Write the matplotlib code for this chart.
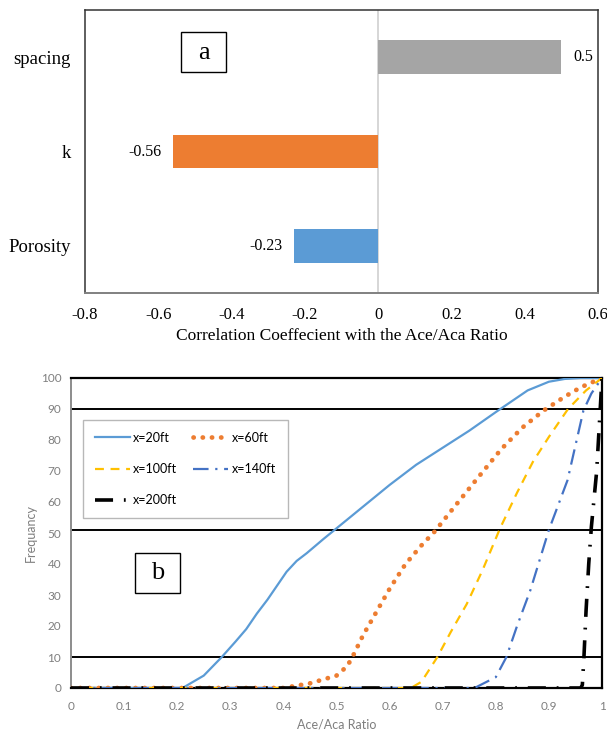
import matplotlib
matplotlib.use("Agg")
import matplotlib.pyplot as plt
from matplotlib.patches import Rectangle

# ---- data: panel a ----
factors = ["Porosity", "k", "spacing"]
corr = [-0.23, -0.56, 0.5]
bar_colors = ["#5B9BD5", "#ED7D31", "#A5A5A5"]

# ---- data: panel b ----
x20 = [0, 0.1, 0.2, 0.21, 0.25, 0.284, 0.31, 0.33, 0.35, 0.37, 0.39, 0.406, 0.425, 0.444, 0.475,
       0.5, 0.55, 0.6, 0.65, 0.7, 0.75, 0.8, 0.83, 0.86, 0.9, 0.93, 0.96, 1.0]
y20 = [0, 0, 0, 0, 4, 10, 15, 19, 24, 28.5, 33.5, 37.5, 41, 43.5, 48,
       51.5, 58.5, 65.5, 72, 77.5, 83, 89, 92.5, 96, 98.8, 99.7, 100, 100]

x60 = [0, 0.2, 0.4, 0.45, 0.5, 0.52, 0.53, 0.55, 0.57, 0.6, 0.63, 0.66, 0.685, 0.72, 0.76,
       0.81, 0.85, 0.89, 0.93, 0.96, 1.0]
y60 = [0, 0, 0, 1.5, 4, 7, 10, 17, 23, 32, 40, 46, 50.5, 58, 66.5,
       77, 84, 89.5, 94, 97, 100]

x100 = [0, 0.3, 0.64, 0.66, 0.69, 0.715, 0.745, 0.775, 0.808, 0.84, 0.87, 0.9, 0.936, 0.97, 1.0]
y100 = [0, 0, 0, 2, 10, 18, 27, 38, 51.5, 63, 73, 81, 90, 96, 100]

x140 = [0, 0.4, 0.76, 0.8, 0.82, 0.84, 0.865, 0.9, 0.935, 0.965, 0.98, 1.0]
y140 = [0, 0, 0, 3.5, 10, 20, 31.5, 51, 67, 89.5, 95, 100]

x200 = [0, 0.5, 0.96, 0.963, 0.966, 0.97, 0.975, 0.98, 0.99, 0.995, 1.0]
y200 = [0, 0, 0, 1, 10, 25, 40, 52, 70, 85, 100]

ref_lines = [10, 51, 90]

W, H = 607, 735
fig = plt.figure(figsize=(W / 100, H / 100), dpi=100)

# ================= panel a =================
serif = "Liberation Serif"
ax1 = fig.add_axes([85 / W, 1 - 293 / H, (598 - 85) / W, (293 - 10) / H])
ypos = list(range(len(factors)))
ax1.barh(ypos, corr, height=0.36, color=bar_colors, zorder=3)
ax1.axvline(0, color="#D0D0D0", lw=1.2, zorder=2)
ax1.set_xlim(-0.8, 0.6)
ax1.set_ylim(-0.5, 2.5)
ax1.set_yticks(ypos)
ax1.set_yticklabels(factors, fontfamily=serif, fontsize=13.5)
xt = [-0.8, -0.6, -0.4, -0.2, 0, 0.2, 0.4, 0.6]
ax1.set_xticks(xt)
ax1.set_xticklabels([("%g" % v) for v in xt], fontfamily=serif, fontsize=12)
ax1.tick_params(length=0, pad=10)
ax1.tick_params(axis="x", pad=10)
ax1.set_xlabel("Correlation Coeffecient with the Ace/Aca Ratio", fontfamily=serif, fontsize=12.5, labelpad=4)
for s in ["top", "left", "right"]:
    ax1.spines[s].set_color("#333333")
    ax1.spines[s].set_linewidth(1.1)
ax1.spines["bottom"].set_color("#808080")
ax1.spines["bottom"].set_linewidth(1.4)
for y, v in zip(ypos, corr):
    if v >= 0:
        ax1.annotate("%g" % v, (v, y), xytext=(9, 0), textcoords="offset points",
                     ha="left", va="center", fontfamily=serif, fontsize=11.5)
    else:
        ax1.annotate("%g" % v, (v, y), xytext=(-8, 0), textcoords="offset points",
                     ha="right", va="center", fontfamily=serif, fontsize=11.5)

# label box "a"
fig.add_artist(Rectangle((181 / W, 1 - 72 / H), 45 / W, 40 / H, transform=fig.transFigure,
                         fill=False, ec="black", lw=1.0))
fig.text(203.5 / W, 1 - 53 / H, "a", ha="center", va="center", fontfamily=serif, fontsize=19)

# ================= panel b =================
sans = "Lato"
grey = "#7F7F7F"
ax2 = fig.add_axes([71 / W, 1 - 688 / H, (602 - 71) / W, (688 - 378) / H])
h20, = ax2.plot(x20, y20, color="#5B9BD5", lw=1.6, label="x=20ft", zorder=3)
h60, = ax2.plot(x60, y60, color="#ED7D31", lw=3.4, linestyle=(0, (0.05, 1.9)),
                dash_capstyle="round", label="x=60ft", zorder=3)
h100, = ax2.plot(x100, y100, color="#FFC000", lw=1.6, linestyle=(0, (4, 3)), label="x=100ft", zorder=3)
h140, = ax2.plot(x140, y140, color="#4472C4", lw=1.6, linestyle=(0, (7, 3, 1, 3)), label="x=140ft", zorder=3)
h200, = ax2.plot(x200, y200, color="black", lw=2.6, linestyle=(0, (5, 3, 0.5, 3)), label="x=200ft", zorder=3)

for r in ref_lines:
    ax2.axhline(r, color="black", lw=1.4, zorder=2)

ax2.set_xlim(0, 1)
ax2.set_ylim(0, 100)
ax2.set_xticks([i / 10 for i in range(11)])
ax2.set_xticklabels(["0", "0.1", "0.2", "0.3", "0.4", "0.5", "0.6", "0.7", "0.8", "0.9", "1"])
ax2.set_yticks(range(0, 101, 10))
ax2.tick_params(length=0, labelsize=8.5, labelcolor=grey, pad=7)
ax2.tick_params(axis="x", pad=9)
for lab in ax2.get_xticklabels() + ax2.get_yticklabels():
    lab.set_fontfamily(sans)
ax2.set_xlabel("Ace/Aca Ratio", fontfamily=sans, fontsize=9, color=grey, labelpad=5)
ax2.set_ylabel("Frequancy", fontfamily=sans, fontsize=9, color=grey, labelpad=3)
ax2.spines["left"].set_color("#8C8C8C")
ax2.spines["left"].set_linewidth(1.4)
for side in ["top", "right", "bottom"]:
    ax2.spines[side].set_color("black")
    ax2.spines[side].set_linewidth(1.6)

# column-major fill -> rows: 20/60, 100/140, 200
handles = [h20, h100, h200, h60, h140]
leg = ax2.legend(handles=handles, labels=[h.get_label() for h in handles],
                 loc="upper left", bbox_to_anchor=(0.0226, 0.865), borderaxespad=0,
                 ncol=2, frameon=True, fancybox=False, edgecolor="#A6A6A6",
                 handlelength=2.8, handletextpad=0.25, columnspacing=1.3,
                 labelspacing=1.55, borderpad=0.95, prop={"family": sans, "size": 9})
leg.get_frame().set_linewidth(1.0)

# label box "b"
fig.add_artist(Rectangle((135 / W, 1 - 593 / H), 45 / W, 40 / H, transform=fig.transFigure,
                         fill=True, fc="white", ec="black", lw=1.0, zorder=5))
fig.text(157.5 / W, 1 - 573 / H, "b", ha="center", va="center", fontfamily=serif, fontsize=19, zorder=6)

fig.savefig("out.png", dpi=100)
